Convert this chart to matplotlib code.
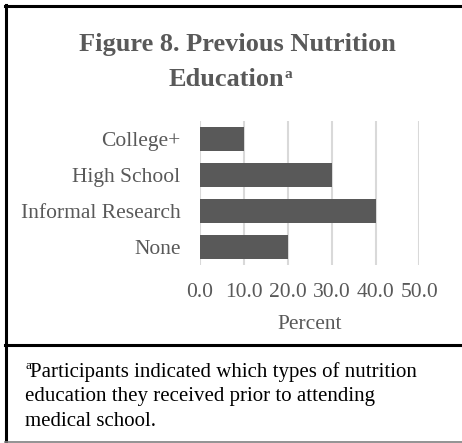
import matplotlib
matplotlib.use("Agg")
import matplotlib.pyplot as plt
from matplotlib.lines import Line2D

categories = ["College+", "High School", "Informal Research", "None"]
values = [10, 30, 40, 20]
xticks = [0, 10, 20, 30, 40, 50]
xtick_labels = ["0.0", "10.0", "20.0", "30.0", "40.0", "50.0"]
title_line1 = "Figure 8. Previous Nutrition"
title_line2 = "Education"
xlabel = "Percent"
footnote = ["Participants indicated which types of nutrition",
            "education they received prior to attending",
            "medical school."]

W, H = 462, 443
fig = plt.figure(figsize=(W / 100, H / 100), dpi=100)
fig.patch.set_facecolor("white")
SERIF = ["Liberation Serif", "DejaVu Serif"]
GRAY = "#595959"

def fx(x):
    return x / W

def fy(y):
    return 1 - y / H

# axes in pixel coords
x0, x1 = 200, 419.5
y0, y1 = 121, 265
ax = fig.add_axes([fx(x0), fy(y1), (x1 - x0) / W, (y1 - y0) / H])
ypos = list(range(len(categories)))
ax.barh(ypos, values, height=0.65, color=GRAY, zorder=3)
ax.set_xlim(0, 50)
ax.set_ylim(len(categories) - 0.5, -0.5)
ax.set_xticks(xticks)
ax.set_xticklabels(xtick_labels, fontfamily=SERIF, fontsize=15.5, color=GRAY)
ax.set_yticks(ypos)
ax.set_yticklabels(categories, fontfamily=SERIF, fontsize=15.5, color=GRAY)
ax.tick_params(axis="y", length=0, pad=14)
ax.tick_params(axis="x", length=0, pad=13)
ax.grid(axis="x", color="#d9d9d9", linewidth=1.5, zorder=0)
for s in ax.spines.values():
    s.set_visible(False)
ax.set_xlabel(xlabel, fontfamily=SERIF, fontsize=15.5, color=GRAY, labelpad=9)

# Title
fig.text(fx(237), fy(45), title_line1, ha="center", va="center",
         fontfamily=SERIF, fontsize=19, fontweight="bold", color=GRAY)
t2 = fig.text(fx(226), fy(80), title_line2, ha="center", va="center",
              fontfamily=SERIF, fontsize=19, fontweight="bold", color=GRAY)
fig.canvas.draw()
bb = t2.get_window_extent()
fig.text(bb.x1 / W + 0.002, fy(74), "a", ha="left", va="center",
         fontfamily=SERIF, fontsize=11, fontweight="bold", color=GRAY)

# Footnote
fig.text(fx(25), fy(366), "a", ha="left", va="center",
         fontfamily=SERIF, fontsize=9.5, color="black")
line_y = [372, 397, 421]
for i, (txt, yy) in enumerate(zip(footnote, line_y)):
    xx = 30 if i == 0 else 25
    fig.text(fx(xx), fy(yy), txt, ha="left", va="center",
             fontfamily=SERIF, fontsize=15, color="black")

# Borders
fig.add_artist(Line2D([fx(6), fx(6)], [fy(5), fy(443)], color="black", lw=2.2))
fig.add_artist(Line2D([fx(5), fx(462)], [fy(6), fy(6)], color="black", lw=2.2))
fig.add_artist(Line2D([fx(5), fx(462)], [fy(345), fy(345)], color="black", lw=2.2))
fig.add_artist(Line2D([fx(5), fx(462)], [fy(442), fy(442)], color="#808080", lw=1.2))

fig.savefig("out.png", dpi=100)
